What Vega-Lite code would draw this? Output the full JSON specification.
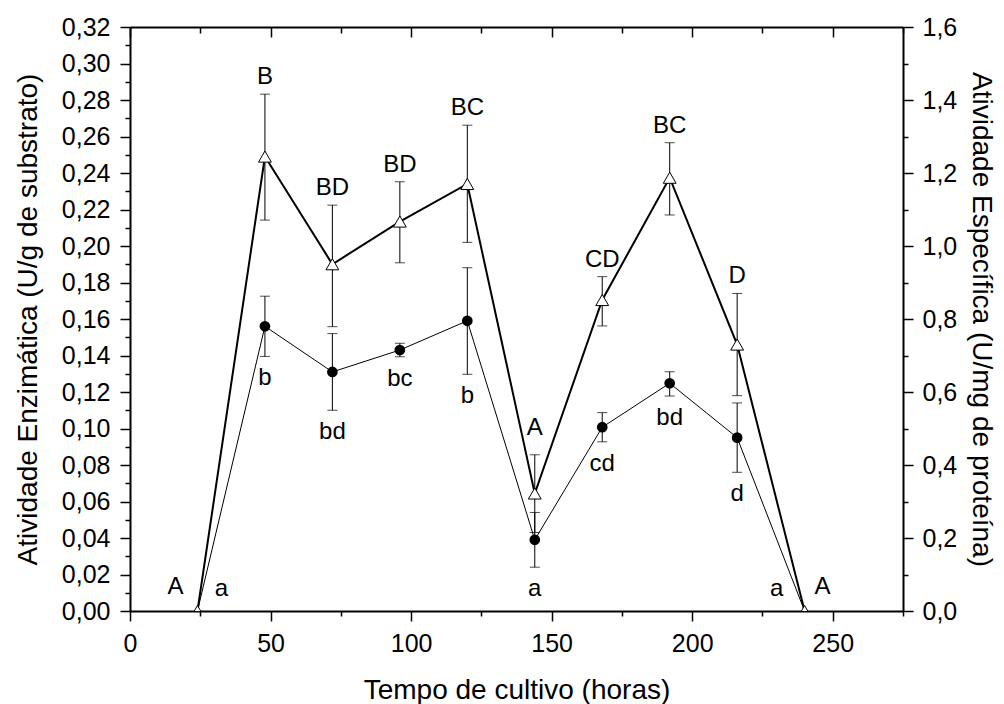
{
  "$schema": "https://vega.github.io/schema/vega-lite/v6.json",
  "width": 773,
  "height": 584,
  "autosize": {"type": "none"},
  "padding": {"left": 130, "top": 27, "right": 101, "bottom": 93},
  "background": "white",
  "config": {
    "view": {"stroke": null},
    "font": "Liberation Sans",
    "axis": {
      "grid": false,
      "domainColor": "black",
      "tickColor": "black",
      "labelColor": "black",
      "titleColor": "black",
      "labelFont": "Liberation Sans",
      "titleFont": "Liberation Sans",
      "labelFontSize": 25,
      "titleFontSize": 28,
      "titleFontWeight": "normal",
      "domainWidth": 2,
      "tickWidth": 1.5,
      "labelFlush": false,
      "labelOverlap": false
    },
    "text": {"font": "Liberation Sans", "fontSize": 24, "color": "black"}
  },
  "datasets": {
    "enz": [
      {"t": 24, "v": 0, "lo": 0, "hi": 0, "lab": "a"},
      {"t": 48, "v": 0.156, "lo": 0.1395, "hi": 0.1725, "lab": "b"},
      {"t": 72, "v": 0.131, "lo": 0.110, "hi": 0.152, "lab": "bd"},
      {"t": 96, "v": 0.143, "lo": 0.1393, "hi": 0.1467, "lab": "bc"},
      {"t": 120, "v": 0.159, "lo": 0.1297, "hi": 0.1881, "lab": "b"},
      {"t": 144, "v": 0.039, "lo": 0.024, "hi": 0.054, "lab": "a"},
      {"t": 168, "v": 0.1007, "lo": 0.0927, "hi": 0.1087, "lab": "cd"},
      {"t": 192, "v": 0.1248, "lo": 0.1178, "hi": 0.1311, "lab": "bd"},
      {"t": 216, "v": 0.095, "lo": 0.076, "hi": 0.114, "lab": "d"},
      {"t": 240, "v": 0, "lo": 0, "hi": 0, "lab": "a"}
    ],
    "esp": [
      {"t": 24, "v": 0, "lo": 0, "hi": 0, "lab": "A"},
      {"t": 48, "v": 1.245, "lo": 1.071, "hi": 1.416, "lab": "B"},
      {"t": 72, "v": 0.95, "lo": 0.779, "hi": 1.112, "lab": "BD"},
      {"t": 96, "v": 1.067, "lo": 0.954, "hi": 1.176, "lab": "BD"},
      {"t": 120, "v": 1.17, "lo": 1.01, "hi": 1.331, "lab": "BC"},
      {"t": 144, "v": 0.322, "lo": 0.215, "hi": 0.428, "lab": "A"},
      {"t": 168, "v": 0.852, "lo": 0.781, "hi": 0.916, "lab": "CD"},
      {"t": 192, "v": 1.187, "lo": 1.085, "hi": 1.283, "lab": "BC"},
      {"t": 216, "v": 0.73, "lo": 0.59, "hi": 0.87, "lab": "D"},
      {"t": 240, "v": 0, "lo": 0, "hi": 0, "lab": "A"}
    ]
  },
  "layer": [
    {
      "data": {"name": "enz"},
      "resolve": {"axis": {"x": "independent", "y": "independent"}},
      "layer": [
        {
          "mark": {"type": "line", "color": "black", "strokeWidth": 1},
          "encoding": {
            "x": {
              "field": "t", "type": "quantitative",
              "scale": {"domain": [0, 275], "nice": false, "zero": false},
              "axis": {
                "orient": "bottom",
                "values": [0, 50, 100, 150, 200, 250],
                "tickSize": 10,
                "labelPadding": 10,
                "title": "Tempo de cultivo (horas)",
                "titlePadding": 20
              }
            },
            "y": {
              "field": "v", "type": "quantitative",
              "scale": {"domain": [0, 0.32], "nice": false},
              "axis": {
                "orient": "left",
                "values": [0, 0.02, 0.04, 0.06, 0.08, 0.10, 0.12, 0.14, 0.16, 0.18, 0.20, 0.22, 0.24, 0.26, 0.28, 0.30, 0.32],
                "tickSize": 10,
                "labelExpr": "replace(format(datum.value, '.2f'), '.', ',')",
                "labelPadding": 10,
                "title": "Atividade Enzimática (U/g de substrato)",
                "titlePadding": 19
              }
            }
          }
        },
        {
          "transform": [{"filter": "datum.v > 0"}],
          "mark": {"type": "errorbar", "ticks": {"size": 10, "thickness": 1, "color": "black"}, "rule": {"strokeWidth": 1, "color": "black"}},
          "encoding": {
            "x": {"field": "t", "type": "quantitative", "axis": null},
            "y": {"field": "lo", "type": "quantitative", "axis": null},
            "y2": {"field": "hi"}
          }
        },
        {
          "transform": [{"filter": "datum.v > 0"}],
          "mark": {"type": "point", "shape": "circle", "filled": true, "color": "black", "size": 115, "opacity": 1},
          "encoding": {
            "x": {
              "field": "t", "type": "quantitative",
              "axis": {"orient": "bottom", "values": [25, 75, 125, 175, 225, 275], "tickSize": 5, "labels": false, "domain": false, "title": null}
            },
            "y": {
              "field": "v", "type": "quantitative",
              "axis": {"orient": "left", "values": [0.01, 0.03, 0.05, 0.07, 0.09, 0.11, 0.13, 0.15, 0.17, 0.19, 0.21, 0.23, 0.25, 0.27, 0.29, 0.31], "tickSize": 5, "labels": false, "domain": false, "title": null}
            }
          }
        },
        {
          "transform": [{"filter": "datum.v > 0"}],
          "mark": {"type": "text", "baseline": "middle", "align": "center", "dy": 22},
          "encoding": {
            "x": {"field": "t", "type": "quantitative", "axis": null},
            "y": {"field": "lo", "type": "quantitative", "axis": null},
            "text": {"field": "lab"}
          }
        },
        {
          "transform": [{"filter": "datum.t === 24"}],
          "mark": {"type": "text", "baseline": "middle", "align": "center", "dx": 24, "dy": -22},
          "encoding": {
            "x": {"field": "t", "type": "quantitative", "axis": null},
            "y": {"field": "v", "type": "quantitative", "axis": null},
            "text": {"field": "lab"}
          }
        },
        {
          "transform": [{"filter": "datum.t === 240"}],
          "mark": {"type": "text", "baseline": "middle", "align": "center", "dx": -28, "dy": -22},
          "encoding": {
            "x": {"field": "t", "type": "quantitative", "axis": null},
            "y": {"field": "v", "type": "quantitative", "axis": null},
            "text": {"field": "lab"}
          }
        }
      ]
    },
    {
      "data": {"name": "esp"},
      "resolve": {"axis": {"x": "independent", "y": "independent"}},
      "layer": [
        {
          "mark": {"type": "line", "color": "black", "strokeWidth": 2},
          "encoding": {
            "x": {
              "field": "t", "type": "quantitative",
              "scale": {"domain": [0, 275], "nice": false, "zero": false},
              "axis": {
                "orient": "top",
                "values": [0, 50, 100, 150, 200, 250],
                "tickSize": -10,
                "labels": false,
                "title": null
              }
            },
            "y": {
              "field": "v", "type": "quantitative",
              "scale": {"domain": [0, 1.6], "nice": false},
              "axis": {
                "orient": "right",
                "values": [0, 0.2, 0.4, 0.6, 0.8, 1.0, 1.2, 1.4, 1.6],
                "tickSize": 10,
                "labelExpr": "replace(format(datum.value, '.1f'), '.', ',')",
                "labelPadding": 9,
                "title": "Atividade Específica (U/mg de proteína)",
                "titlePadding": 10
              }
            }
          }
        },
        {
          "transform": [{"filter": "datum.v > 0"}],
          "mark": {"type": "errorbar", "ticks": {"size": 10, "thickness": 1, "color": "black"}, "rule": {"strokeWidth": 1, "color": "black"}},
          "encoding": {
            "x": {"field": "t", "type": "quantitative", "axis": null},
            "y": {"field": "lo", "type": "quantitative", "axis": null},
            "y2": {"field": "hi"}
          }
        },
        {
          "mark": {"type": "point", "shape": "triangle-up", "filled": true, "fill": "white", "stroke": "black", "strokeWidth": 1, "size": 165, "opacity": 1, "clip": true},
          "encoding": {
            "x": {
              "field": "t", "type": "quantitative",
              "axis": {"orient": "top", "values": [25, 75, 125, 175, 225, 275], "tickSize": -6, "labels": false, "domain": false, "title": null}
            },
            "y": {
              "field": "v", "type": "quantitative",
              "axis": {"orient": "right", "values": [0.1, 0.3, 0.5, 0.7, 0.9, 1.1, 1.3, 1.5], "tickSize": 5, "labels": false, "domain": false, "title": null}
            }
          }
        },
        {
          "transform": [{"filter": "datum.v > 0 && datum.t !== 144"}],
          "mark": {"type": "text", "baseline": "middle", "align": "center", "dy": -17},
          "encoding": {
            "x": {"field": "t", "type": "quantitative", "axis": null},
            "y": {"field": "hi", "type": "quantitative", "axis": null},
            "text": {"field": "lab"}
          }
        },
        {
          "transform": [{"filter": "datum.t === 144"}],
          "mark": {"type": "text", "baseline": "middle", "align": "center", "dy": -27},
          "encoding": {
            "x": {"field": "t", "type": "quantitative", "axis": null},
            "y": {"field": "hi", "type": "quantitative", "axis": null},
            "text": {"field": "lab"}
          }
        },
        {
          "transform": [{"filter": "datum.t === 24"}],
          "mark": {"type": "text", "baseline": "middle", "align": "center", "dx": -22, "dy": -24},
          "encoding": {
            "x": {"field": "t", "type": "quantitative", "axis": null},
            "y": {"field": "v", "type": "quantitative", "axis": null},
            "text": {"field": "lab"}
          }
        },
        {
          "transform": [{"filter": "datum.t === 240"}],
          "mark": {"type": "text", "baseline": "middle", "align": "center", "dx": 18, "dy": -24},
          "encoding": {
            "x": {"field": "t", "type": "quantitative", "axis": null},
            "y": {"field": "v", "type": "quantitative", "axis": null},
            "text": {"field": "lab"}
          }
        }
      ]
    }
  ],
  "resolve": {"scale": {"y": "independent"}, "axis": {"x": "independent", "y": "independent"}}
}
